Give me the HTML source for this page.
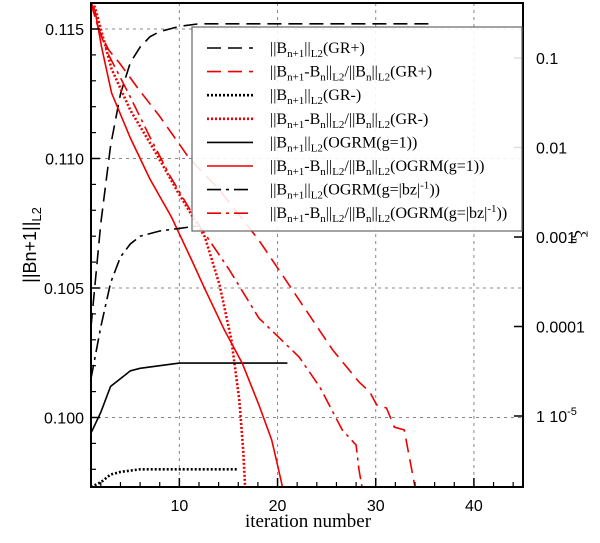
<!DOCTYPE html>
<html><head><meta charset="utf-8"><style>
body{margin:0;background:#fff;}
svg text{font-family:"Liberation Sans",sans-serif;}
</style></head><body>
<svg id="chart" width="600" height="538" viewBox="0 0 600 538" xmlns="http://www.w3.org/2000/svg">
<g id="grid"></g>
<g id="series"></g>
<rect x="91" y="3" width="432" height="484" fill="none" stroke="#000" stroke-width="2"/>
<g id="axes"></g>
<text transform="translate(36,245) rotate(-90)" text-anchor="middle" font-size="18">||Bn+1||<tspan font-size="13" baseline-shift="-5">L2</tspan></text>
<text transform="translate(575,237) rotate(90)" text-anchor="middle" font-size="18" style="font-family:'Liberation Serif',serif">ξ<tspan font-size="12" baseline-shift="-4">n</tspan></text>
<text x="308" y="527" text-anchor="middle" font-size="19" style="font-family:'Liberation Serif',serif">iteration number</text>
<g id="legend"></g>
</svg>
<script>
const xTicks=[10,20,30,40];
const yLeftTicks=[0.100,0.105,0.110,0.115];
const yLeftLabels=["0.100","0.105","0.110","0.115"];
const yRightTicks=[0.1,0.01,0.001,0.0001,0.00001];
const yRightLabels=["0.1","0.01","0.001","0.0001","1 10"];

const grPlusX=[1,2,3,4,5,6,7,8,10,12,36];
const grPlusY=[0.1035,0.1075,0.1105,0.1125,0.1137,0.1143,0.1147,0.1149,0.1151,0.1152,0.1152];
const grMinusX=[1,2,3,4,6,16];
const grMinusY=[0.0972,0.0975,0.0978,0.0979,0.0980,0.0980];
const ogrm1X=[1,2,3,4,5,6,8,10,21];
const ogrm1Y=[0.0994,0.1002,0.1012,0.1015,0.1018,0.1019,0.1020,0.1021,0.1021];
const ogrmBzX=[1,2,3,4,5,6,8,10,12];
const ogrmBzY=[0.1015,0.1035,0.1052,0.1062,0.1067,0.1070,0.1072,0.1073,0.1074];

const rGrPlusX=[1,1.8,2.8,3.9,5.9,7.9,11,14.1,18.1,22.2,25.6,28.3,29.4,30.1,31.1,31.9,32.9,34];
const rGrPlusY=[0.41,0.206,0.123,0.088,0.044,0.0231,0.0076,0.00335,9.2e-4,1.98e-4,5.5e-5,2.4e-5,1.85e-5,1.33e-5,1.23e-5,7.5e-6,7.0e-6,1.6e-6];
const rGrMinusX=[1,1.4,3.1,5,7.5,9.9,12.6,14.1,15.3,16.1,16.5,16.7];
const rGrMinusY=[0.41,0.37,0.0753,0.0262,0.00914,0.0031,0.001,2.91e-4,7.06e-5,1.51e-5,4.17e-6,1.6e-6];
const rOgrm1X=[1,1.4,2.1,3.1,5,7,9.2,11.3,12.6,14.6,16.4,18.1,19.4,20,20.5];
const rOgrm1Y=[0.41,0.344,0.129,0.0406,0.0128,0.00445,0.00167,5.4e-4,2.62e-4,9.1e-5,3.9e-5,1.33e-5,5.4e-6,2.84e-6,1.6e-6];
const rOgrmBzX=[1,1.8,2.8,4.9,6.9,9,12,15.1,18.1,22.2,24.3,26.6,28,28.3,28.6];
const rOgrmBzY=[0.41,0.206,0.108,0.0386,0.0138,0.00493,0.00136,4.28e-4,1.24e-4,4.56e-5,2.11e-5,6.98e-6,4.74e-6,2.5e-6,1.6e-6];

const NS="http://www.w3.org/2000/svg";
const X0=91,X1=523,Y0=3,Y1=487;
function xs(v){return X0+(v-1)*(X1-X0)/44;}
function yl(v){return 29+(0.115-v)*25900;}
function yr(v){return 58+(-1-Math.log10(v))*89.5;}
function mk(tag,attrs,parent){const e=document.createElementNS(NS,tag);for(const k in attrs)e.setAttribute(k,attrs[k]);parent.appendChild(e);return e;}
const grid=document.getElementById('grid'),axes=document.getElementById('axes'),ser=document.getElementById('series'),leg=document.getElementById('legend');

xTicks.forEach(t=>{
  const g=mk('line',{x1:xs(t),x2:xs(t),y1:Y0,y2:Y1,stroke:'#888','stroke-dasharray':'3,4','stroke-width':1},grid);
  
  
  const tk=mk('line',{x1:xs(t),x2:xs(t),y1:Y1,y2:Y1-9,stroke:'#000','stroke-width':1.5},axes);
  
  
  const tx=mk('text',{x:xs(t),y:Y1+24,'text-anchor':'middle','font-size':16},axes);tx.textContent=t;
  
  
});
for(let v=2;v<=44;v+=2){if(v%10==0)continue;
  const m=mk('line',{x1:xs(v),x2:xs(v),y1:Y1,y2:Y1-5,stroke:'#000','stroke-width':1.2},axes);
  
  }
yLeftTicks.forEach((t,i)=>{
  const g=mk('line',{x1:X0,x2:X1,y1:yl(t),y2:yl(t),stroke:'#888','stroke-dasharray':'3,4','stroke-width':1},grid);
  
  
  const tk=mk('line',{x1:X0,x2:X0+9,y1:yl(t),y2:yl(t),stroke:'#000','stroke-width':1.5},axes);
  
  
  const tx=mk('text',{x:X0-7,y:yl(t)+6,'text-anchor':'end','font-size':16},axes);tx.textContent=yLeftLabels[i];
  
  
});
for(let k=98;k<=116;k++){const v=k/1000;if(k%5==0)continue;
  const m=mk('line',{x1:X0,x2:X0+5,y1:yl(v),y2:yl(v),stroke:'#000','stroke-width':1.2},axes);
  
  }
yRightTicks.forEach((t,i)=>{
  const tk=mk('line',{x1:X1,x2:X1-9,y1:yr(t),y2:yr(t),stroke:'#000','stroke-width':1.5},axes);
  
  
  const tx=mk('text',{x:X1+13,y:yr(t)+6,'font-size':16},axes);tx.textContent=yRightLabels[i];
  if(i==4){const s=mk('tspan',{'font-size':11,'baseline-shift':'7'},tx);s.textContent='-5';}
  
  
});

const defs=[
 {x:grPlusX,y:grPlusY,s:yl,c:'#000',d:'14,7',w:1.6,n:'series-gr-plus-norm',lab:['||B','_n+1','||','_L2','(GR+)']},
 {x:rGrPlusX,y:rGrPlusY,s:yr,c:'#e00',d:'14,7',w:1.6,n:'series-gr-plus-residual',lab:['||B','_n+1','-B','_n','||','_L2','/||B','_n','||','_L2','(GR+)']},
 {x:grMinusX,y:grMinusY,s:yl,c:'#000',d:'2,2',w:2.6,n:'series-gr-minus-norm',lab:['||B','_n+1','||','_L2','(GR-)']},
 {x:rGrMinusX,y:rGrMinusY,s:yr,c:'#e00',d:'2,2',w:2.6,n:'series-gr-minus-residual',lab:['||B','_n+1','-B','_n','||','_L2','/||B','_n','||','_L2','(GR-)']},
 {x:ogrm1X,y:ogrm1Y,s:yl,c:'#000',d:'',w:1.6,n:'series-ogrm-g1-norm',lab:['||B','_n+1','||','_L2','(OGRM(g=1))']},
 {x:rOgrm1X,y:rOgrm1Y,s:yr,c:'#e00',d:'',w:1.6,n:'series-ogrm-g1-residual',lab:['||B','_n+1','-B','_n','||','_L2','/||B','_n','||','_L2','(OGRM(g=1))']},
 {x:ogrmBzX,y:ogrmBzY,s:yl,c:'#000',d:'14,5,3,5',w:1.6,n:'series-ogrm-bz-norm',lab:['||B','_n+1','||','_L2','(OGRM(g=|bz|','^-1','))']},
 {x:rOgrmBzX,y:rOgrmBzY,s:yr,c:'#e00',d:'14,5,3,5',w:1.6,n:'series-ogrm-bz-residual',lab:['||B','_n+1','-B','_n','||','_L2','/||B','_n','||','_L2','(OGRM(g=|bz|','^-1','))']}
];
defs.forEach(o=>{
  const pts=o.x.map((v,i)=>xs(v).toFixed(1)+','+Math.min(Y1,o.s(o.y[i])).toFixed(1)).join(' ');
  const p=mk('polyline',{points:pts,fill:'none',stroke:o.c,'stroke-width':o.w,'stroke-dasharray':o.d},ser);
  
  
});

const lb=mk('rect',{x:192,y:27,width:330,height:204,fill:'#fff','fill-opacity':0.88,stroke:'#666','stroke-width':1.2},leg);


defs.forEach((o,i)=>{
  const y=48+i*23.6;
  const g=mk('g',{},leg);
  
  
  mk('line',{x1:207,x2:253,y1:y,y2:y,stroke:o.c,'stroke-width':o.w,'stroke-dasharray':o.d},g);
  const t=mk('text',{x:270,y:y+5,'font-size':16,style:"font-family:'Liberation Serif',serif"},g);
  o.lab.forEach(part=>{
    const s=mk('tspan',{},t);
    if(part[0]=='_'){s.setAttribute('font-size',11);s.setAttribute('baseline-shift','-4');s.textContent=part.slice(1);}
    else if(part[0]=='^'){s.setAttribute('font-size',11);s.setAttribute('baseline-shift','6');s.textContent=part.slice(1);}
    else s.textContent=part;
  });
});
</script>
</body></html>
